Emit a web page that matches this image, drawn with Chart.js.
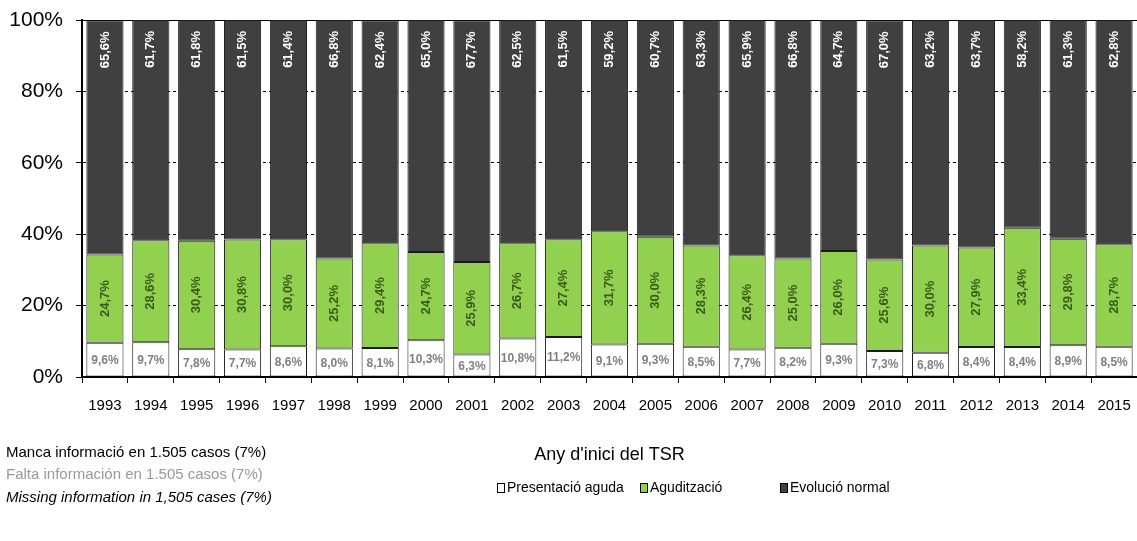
<!DOCTYPE html>
<html><head><meta charset="utf-8">
<script src="https://cdn.jsdelivr.net/npm/chart.js@4/dist/chart.umd.min.js"></script>
<style>
html,body{margin:0;padding:0;background:#fff;}
#wrap{position:relative;width:1137px;height:541px;overflow:hidden;}
#c{position:absolute;left:0;top:0;}
.note{position:absolute;left:6px;font-family:Arial,"Liberation Sans",sans-serif;font-size:15px;white-space:nowrap;line-height:17px;}
</style></head><body>
<div id="wrap">
<canvas id="c" width="1137" height="541"></canvas>
<div class="note" style="top:443px;color:#000">Manca informació en 1.505 casos (7%)</div>
<div class="note" style="top:465px;color:#999">Falta información en 1.505 casos (7%)</div>
<div class="note" style="top:488px;color:#000;font-style:italic">Missing information in 1,505 cases (7%)</div>
</div>
<script>
const years = ['1993','1994','1995','1996','1997','1998','1999','2000','2001','2002','2003','2004','2005','2006','2007','2008','2009','2010','2011','2012','2013','2014','2015'];
const presentacioAguda = [9.6,9.7,7.8,7.7,8.6,8.0,8.1,10.3,6.3,10.8,11.2,9.1,9.3,8.5,7.7,8.2,9.3,7.3,6.8,8.4,8.4,8.9,8.5];
const aguditzacio = [24.7,28.6,30.4,30.8,30.0,25.2,29.4,24.7,25.9,26.7,27.4,31.7,30.0,28.3,26.4,25.0,26.0,25.6,30.0,27.9,33.4,29.8,28.7];
const evolucioNormal = [65.6,61.7,61.8,61.5,61.4,66.8,62.4,65.0,67.7,62.5,61.5,59.2,60.7,63.3,65.9,66.8,64.7,67.0,63.2,63.7,58.2,61.3,62.8];
const yTicks = [0,20,40,60,80,100];
const seriesNames = ['Presentació aguda','Agudització','Evolució normal'];
const axisTitle = "Any d'inici del TSR";

const FONT = 'Arial, "Liberation Sans", sans-serif';
const fmt = v => v.toFixed(1).replace('.', ',') + '%';

const topLinePlugin = {
  id: 'topLine',
  beforeDatasetsDraw(chart) {
    const ctx = chart.ctx, a = chart.chartArea;
    const y = Math.round(chart.scales.y.getPixelForValue(100)) + 0.5;
    ctx.save();
    ctx.strokeStyle = '#000';
    ctx.lineWidth = 1;
    ctx.beginPath();
    ctx.moveTo(a.left - 6, y);
    ctx.lineTo(a.right, y);
    ctx.stroke();
    ctx.restore();
  }
};

const labelPlugin = {
  id: 'segLabels',
  afterDatasetsDraw(chart) {
    const ctx = chart.ctx;
    chart.data.datasets.forEach((ds, di) => {
      const meta = chart.getDatasetMeta(di);
      meta.data.forEach((bar, i) => {
        const txt = fmt(ds.data[i]);
        const p = bar.getProps(['x', 'y', 'base'], true);
        ctx.save();
        ctx.textBaseline = 'middle';
        if (di === 0) {
          ctx.font = 'bold 12px ' + FONT;
          ctx.fillStyle = '#808080';
          ctx.textAlign = 'center';
          ctx.fillText(txt, p.x, (p.y + p.base) / 2 + 1);
        } else if (di === 1) {
          ctx.font = 'bold 13px ' + FONT;
          ctx.fillStyle = '#3a5a1a';
          ctx.translate(p.x, (p.y + p.base) / 2);
          ctx.rotate(-Math.PI / 2);
          ctx.textAlign = 'center';
          ctx.fillText(txt, 0, 0);
        } else {
          ctx.font = 'bold 13px ' + FONT;
          ctx.fillStyle = '#ffffff';
          ctx.translate(p.x, p.y + 11);
          ctx.rotate(-Math.PI / 2);
          ctx.textAlign = 'right';
          ctx.fillText(txt, 0, 0);
        }
        ctx.restore();
      });
    });
  }
};

const legendPlugin = {
  id: 'customLegend',
  afterDraw(chart) {
    const ctx = chart.ctx;
    const xs = [497, 640, 780];
    const yc = 488;
    ctx.save();
    ctx.font = '14px ' + FONT;
    ctx.textBaseline = 'middle';
    ctx.textAlign = 'left';
    chart.data.datasets.forEach((ds, i) => {
      ctx.fillStyle = ds.backgroundColor;
      ctx.fillRect(xs[i] + 0.5, yc - 4.5, 7, 9);
      ctx.strokeStyle = '#000';
      ctx.lineWidth = 1;
      ctx.strokeRect(xs[i] + 0.5, yc - 4.5, 7, 9);
      ctx.fillStyle = '#000';
      ctx.fillText(ds.label, xs[i] + 10, yc);
    });
    ctx.restore();
  }
};

new Chart(document.getElementById('c'), {
  type: 'bar',
  data: {
    labels: years,
    datasets: [
      { label: seriesNames[0], data: presentacioAguda, backgroundColor: '#ffffff', borderColor: '#1a1a1a', borderWidth: 1, borderSkipped: false },
      { label: seriesNames[1], data: aguditzacio, backgroundColor: '#92d050', borderColor: '#1a1a1a', borderWidth: 1, borderSkipped: false },
      { label: seriesNames[2], data: evolucioNormal, backgroundColor: '#404040', borderColor: '#1a1a1a', borderWidth: 1, borderSkipped: false }
    ]
  },
  options: {
    responsive: false,
    animation: false,
    devicePixelRatio: 1,
    layout: { padding: { top: 20, bottom: 71, left: 0, right: 0 } },
    datasets: { bar: { barPercentage: 0.81, categoryPercentage: 1 } },
    plugins: { legend: { display: false }, tooltip: { enabled: false } },
    scales: {
      x: {
        stacked: true,
        offset: true,
        afterFit: s => { s.height = 93; s.paddingLeft = 0; s.paddingRight = 0; },
        grid: { display: true, offset: true, drawOnChartArea: false, drawTicks: true, tickLength: 6, color: '#000', tickColor: '#000' },
        border: { display: true, color: '#000', width: 2 },
        ticks: { font: { family: FONT, size: 15 }, color: '#000', padding: 14, maxRotation: 0, autoSkip: false },
        title: { display: true, text: axisTitle, font: { family: FONT, size: 18 }, color: '#000', padding: { top: 0, bottom: 4 } }
      },
      y: {
        stacked: true,
        min: 0, max: 100,
        afterFit: s => { s.width = 82; s.paddingTop = 0; s.paddingBottom = 0; },
        afterBuildTicks: s => { s.ticks = yTicks.map(v => ({ value: v })); },
        grid: { display: true, color: '#000', lineWidth: 1, drawTicks: true, tickLength: 6, tickColor: '#000' },
        border: { display: true, color: '#000', width: 2, dash: [3, 3] },
        ticks: { font: { family: FONT, size: 21 }, color: '#000', padding: 13, callback: v => v + '%' }
      }
    }
  },
  plugins: [topLinePlugin, labelPlugin, legendPlugin]
});
</script>
</body></html>
